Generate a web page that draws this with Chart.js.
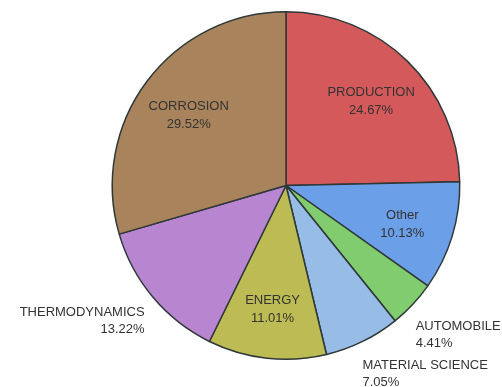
<!DOCTYPE html>
<html>
<head>
<meta charset="utf-8">
<script src="https://cdn.jsdelivr.net/npm/chart.js@4/dist/chart.umd.min.js"></script>
<style>
  html, body { margin: 0; padding: 0; background: #fff; }
  #wrap { width: 502px; height: 387px; }
</style>
</head>
<body>
<div id="wrap"><canvas id="graficaAreas"></canvas></div>
<script>
// areas, clockwise from 12 o'clock
const areas = ['PRODUCTION', 'Other', 'AUTOMOBILE', 'MATERIAL SCIENCE', 'ENERGY', 'THERMODYNAMICS', 'CORROSION'];
const porcentajes = [24.67, 10.13, 4.41, 7.05, 11.01, 13.22, 29.52];
const colores = ['#d4595a', '#6b9fe8', '#80cc6f', '#97bde6', '#bdbb53', '#b885d1', '#a8835b'];

// labels: inside the slice when the text fits, otherwise just outside the rim
const etiquetasPie = {
    id: 'etiquetasPie',
    afterDatasetsDraw(chart) {
        const ctx = chart.ctx;
        const meta = chart.getDatasetMeta(0);
        ctx.save();
        ctx.font = '13px "Liberation Sans", Arial, sans-serif';
        ctx.fillStyle = '#333';
        const alto = 18;
        meta.data.forEach((arc, i) => {
            const p = arc.getProps(['x', 'y', 'startAngle', 'endAngle', 'outerRadius'], true);
            const medio = (p.startAngle + p.endAngle) / 2;
            const lineas = [areas[i], porcentajes[i].toFixed(2) + '%'];
            const ancho = Math.max(...lineas.map(l => ctx.measureText(l).width));
            const rIn = p.outerRadius * 0.70;
            const cuerda = 2 * rIn * Math.sin((p.endAngle - p.startAngle) / 2);
            ctx.textBaseline = 'middle';
            if (ancho < cuerda) {
                const cx = p.x + Math.cos(medio) * rIn;
                const cy = p.y + Math.sin(medio) * rIn + 3;
                ctx.textAlign = 'center';
                ctx.fillText(lineas[0], cx, cy - alto / 2);
                ctx.fillText(lineas[1], cx, cy + alto / 2);
            } else {
                const rOut = p.outerRadius + 11;
                let ax = p.x + Math.cos(medio) * rOut;
                let ay = p.y + Math.sin(medio) * rOut;
                if (ax > p.x) {
                    // right side: block hangs a little lower and tucks in
                    ctx.textAlign = 'left';
                    ax -= 5;
                    ay += 6;
                } else {
                    ctx.textAlign = 'right';
                }
                ctx.fillText(lineas[0], ax, ay + alto / 2 - 1);
                ctx.fillText(lineas[1], ax, ay + alto * 1.5 - 2);
            }
        });
        ctx.restore();
    }
};

new Chart(document.getElementById('graficaAreas'), {
    type: 'pie',
    data: {
        labels: areas,
        datasets: [{
            data: porcentajes,
            backgroundColor: colores,
            borderColor: '#2f3838',
            borderWidth: 1.5
        }]
    },
    options: {
        responsive: true,
        maintainAspectRatio: false,
        animation: false,
        layout: { padding: { left: 110, right: 40, top: 11, bottom: 27 } },
        plugins: { legend: { display: false }, tooltip: { enabled: false } }
    },
    plugins: [etiquetasPie]
});
</script>
</body>
</html>
